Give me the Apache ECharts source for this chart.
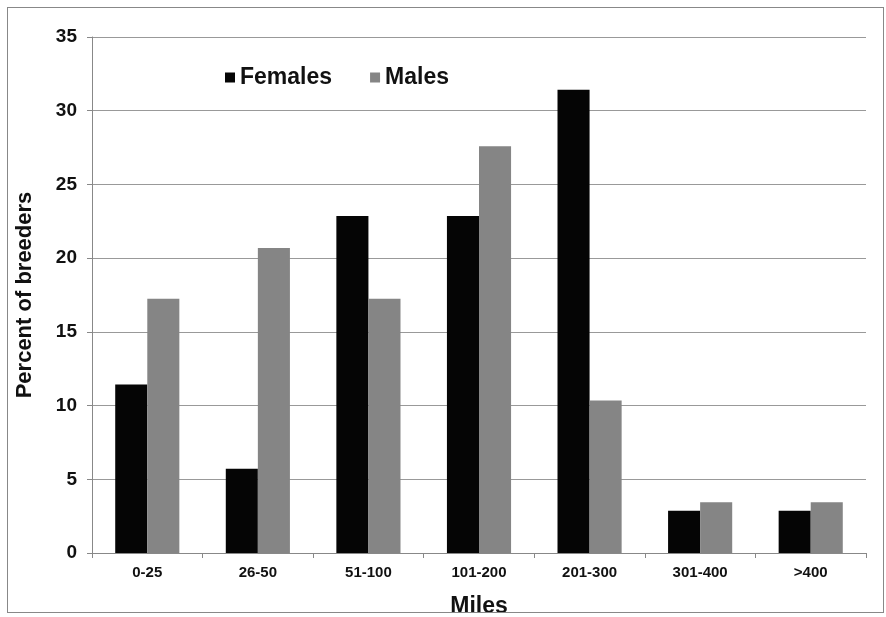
<!DOCTYPE html>
<html><head><meta charset="utf-8">
<script src="https://cdn.jsdelivr.net/npm/echarts@6/dist/echarts.min.js"></script>
<style>html,body{margin:0;padding:0;background:#fff}#c{width:886px;height:617px}
#frame{position:absolute;left:7px;top:7px;width:877px;height:606px;border:1px solid #888;box-sizing:border-box;pointer-events:none}</style>
</head><body><div id="c"></div><div id="frame"></div>
<script>
const categories = ['0-25','26-50','51-100','101-200','201-300','301-400','>400'];
const females = [11.43, 5.71, 22.86, 22.86, 31.43, 2.86, 2.86];
const males = [17.24, 20.69, 17.24, 27.59, 10.34, 3.45, 3.45];
const yTicks = {min: 0, max: 35, interval: 5};
const ff = 'Liberation Sans, Arial, sans-serif';
const chart = echarts.init(document.getElementById('c'));
chart.setOption({
  animation: false,
  grid: {left: 92, right: 20, top: 37, bottom: 64, containLabel: false, outerBoundsMode: 'none'},
  legend: {
    left: 220, top: 61, itemWidth: 10, itemHeight: 10, itemGap: 38,
    icon: 'rect',
    textStyle: {fontFamily: ff, fontWeight: 'bold', fontSize: 23, color: '#111'},
    data: ['Females', 'Males']
  },
  xAxis: {
    type: 'category', data: categories,
    name: 'Miles', nameLocation: 'middle', nameGap: 42,
    nameTextStyle: {fontFamily: ff, fontWeight: 'bold', fontSize: 23, color: '#111'},
    axisLine: {lineStyle: {color: '#888'}},
    axisTick: {show: true, length: 5, lineStyle: {color: '#888'}},
    axisLabel: {fontFamily: ff, fontWeight: 'bold', fontSize: 15, color: '#111', margin: 12}
  },
  yAxis: {
    type: 'value', min: yTicks.min, max: yTicks.max, interval: yTicks.interval,
    name: 'Percent of breeders', nameLocation: 'middle', nameGap: 56,
    nameTextStyle: {fontFamily: ff, fontWeight: 'bold', fontSize: 22, color: '#111'},
    axisLine: {show: true, lineStyle: {color: '#888'}},
    axisTick: {show: true, length: 5, lineStyle: {color: '#888'}},
    splitLine: {lineStyle: {color: '#999'}},
    axisLabel: {fontFamily: ff, fontWeight: 'bold', fontSize: 19, color: '#111', margin: 15}
  },
  series: [
    {name: 'Females', type: 'bar', data: females, itemStyle: {color: '#050505'}, barGap: '0%', barCategoryGap: '42%'},
    {name: 'Males', type: 'bar', data: males, itemStyle: {color: '#858585'}, barGap: '0%', barCategoryGap: '42%'}
  ]
});
</script></body></html>
